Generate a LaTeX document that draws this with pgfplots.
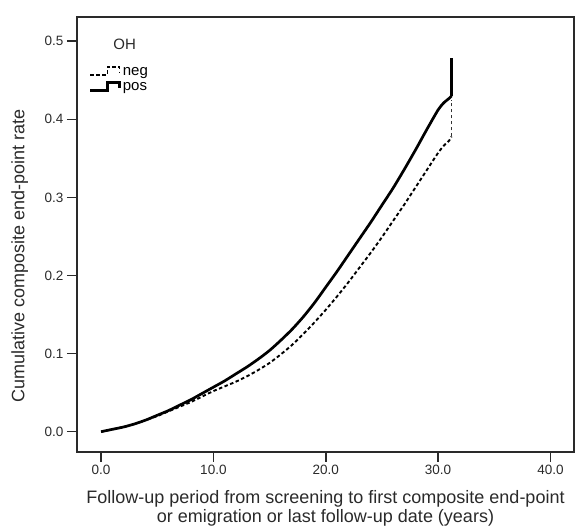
\documentclass[border=0pt]{standalone}
\usepackage{fontspec}
\setmainfont{Liberation Sans}
\usepackage{pgfplots}
\pgfplotsset{compat=1.18}
\definecolor{framegray}{HTML}{2a2a2a}
\pgfplotstableread{
t v
0 0
1 0.003
2 0.006
3 0.010
4 0.015
5 0.021
6 0.027
7 0.034
8 0.041
9 0.049
10 0.057
11 0.065
12 0.074
13 0.083
14 0.093
15 0.104
16 0.117
17 0.131
18 0.147
19 0.165
20 0.185
21 0.205
22 0.226
23 0.247
24 0.268
25 0.290
26 0.312
27 0.336
28 0.361
29 0.387
30 0.412
30.5 0.421
31 0.427
31.2 0.430
}\pos
\pgfplotstableread{
t v
31.2 0.430
31.2 0.478
}\posend
\pgfplotstableread{
t v
0 0
1 0.003
2 0.006
3 0.010
4 0.015
5 0.020
6 0.026
7 0.032
8 0.038
9 0.045
10 0.052
11 0.058
12 0.064
13 0.071
14 0.079
15 0.088
16 0.099
17 0.111
18 0.125
19 0.140
20 0.156
21 0.173
22 0.191
23 0.210
24 0.229
25 0.249
26 0.270
27 0.291
28 0.313
29 0.335
30 0.357
30.5 0.366
31 0.373
31.2 0.378
}\neg
\pgfplotstableread{
t v
31.2 0.378
31.2 0.425
}\negend
\begin{document}
\begin{tikzpicture}
\begin{axis}[
  scale only axis, width=497pt, height=435pt,
  xmin=-2.14, xmax=42.1, ymin=-0.026, ymax=0.531,
  axis line style={line width=1.6pt, draw=framegray},
  xtick={0,10,20,30,40}, ytick={0,0.1,0.2,0.3,0.4,0.5},
  tick align=outside, tick pos=left,
  major tick length=10pt,
  tick style={line width=1.6pt, draw=framegray},
  scaled ticks=false,
  ticklabel style={font=\fontsize{13.5}{15}\selectfont, text=framegray},
  /pgf/number format/fixed, /pgf/number format/fixed zerofill,
  /pgf/number format/precision=1, /pgf/number format/assume math mode=true,
  ylabel={Cumulative composite end-point rate},
  ylabel style={at={(axis description cs:-0.115,0.45)}, anchor=center, rotate=0, font=\fontsize{18}{21}\selectfont, text=framegray},
  xlabel={Follow-up period from screening to first composite end-point\\or emigration or last follow-up date (years)},
  xlabel style={at={(axis description cs:0.5,-0.080)}, anchor=north, align=center, font=\fontsize{18}{19}\selectfont, text=framegray},
  legend style={at={(axis description cs:0.024,0.89)}, anchor=north west, draw=none, fill=none, font=\fontsize{15}{18}\selectfont, inner sep=0pt, row sep=2pt},
  legend cell align=left,
  legend image code/.code={\draw[#1] (0pt,-3pt) -- (17pt,-3pt) -- (17pt,5pt) -- (29pt,5pt) -- (29pt,-1pt);},
]
\addplot[black, line width=1.9pt, dash pattern=on 3.5pt off 2.5pt, smooth, tension=0.4] table[x=t,y=v] {\neg};
\addlegendentry{neg}
\addplot[black, line width=2.7pt, smooth, tension=0.4] table[x=t,y=v] {\pos};
\addlegendentry{pos}
\addplot[forget plot, black!80, line width=1.4pt, dash pattern=on 3.5pt off 2.5pt] table[x=t,y=v] {\negend};
\addplot[forget plot, black, line width=2.2pt] table[x=t,y=v] {\posend};
\node[font=\fontsize{15}{18}\selectfont, anchor=west, text=framegray] at (axis description cs:0.066,0.938) {OH};
\end{axis}
\path (current axis.south west) ++(-77pt,-74pt);
\path (current axis.north east) ++(2pt,17pt);
\end{tikzpicture}
\end{document}
